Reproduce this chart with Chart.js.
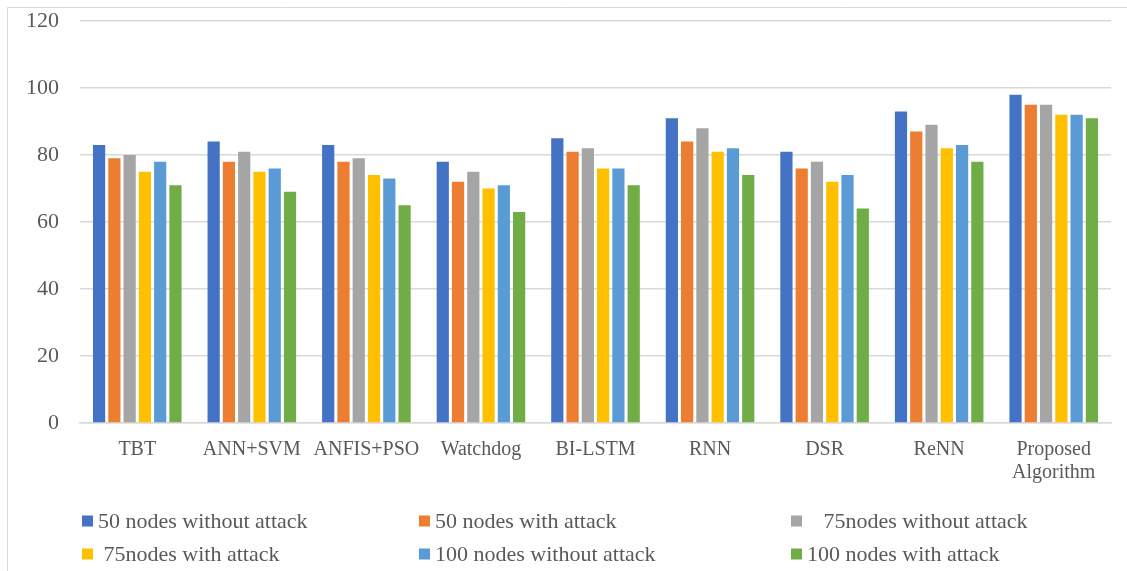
<!DOCTYPE html>
<html>
<head>
<meta charset="utf-8">
<style>
  html, body { margin: 0; padding: 0; background: #ffffff; }
  #wrap { width: 1127px; height: 571px; position: relative; }
</style>
<script src="https://cdn.jsdelivr.net/npm/chart.js@4.4.1/dist/chart.umd.min.js"></script>
</head>
<body>
<div id="wrap"><canvas id="chart" width="1127" height="571"></canvas></div>
<script>
// Methods compared
const categories = [
  'TBT', 'ANN+SVM', 'ANFIS+PSO', 'Watchdog', 'BI-LSTM',
  'RNN', 'DSR', 'ReNN', ['Proposed', 'Algorithm']
];

// Series names (leading spaces kept as written in the legend)
const seriesNames = [
  '50 nodes without attack',
  '50 nodes with attack',
  '   75nodes without attack',
  ' 75nodes with attack',
  '100 nodes without attack',
  '100 nodes with attack'
];

const seriesColors = ['#4472C4', '#ED7D31', '#A5A5A5', '#FFC000', '#5B9BD5', '#70AD47'];

// Values per method for each scenario
const nodes50NoAttack   = [83, 84, 83, 78, 85, 91, 81, 93, 98];
const nodes50Attack     = [79, 78, 78, 72, 81, 84, 76, 87, 95];
const nodes75NoAttack   = [80, 81, 79, 75, 82, 88, 78, 89, 95];
const nodes75Attack     = [75, 75, 74, 70, 76, 81, 72, 82, 92];
const nodes100NoAttack  = [78, 76, 73, 71, 76, 82, 74, 83, 92];
const nodes100Attack    = [71, 69, 65, 63, 71, 74, 64, 78, 91];

const yTicks = [0, 20, 40, 60, 80, 100, 120];

const seriesValues = [nodes50NoAttack, nodes50Attack, nodes75NoAttack,
                      nodes75Attack, nodes100NoAttack, nodes100Attack];

const FONT = "'Liberation Serif', 'Times New Roman', serif";
const TEXT = '#595959';
const GRID = '#d9d9d9';

// Light frame around the chart
const framePlugin = {
  id: 'frame',
  beforeDraw(chart) {
    const ctx = chart.ctx;
    ctx.save();
    ctx.fillStyle = '#ffffff';
    ctx.fillRect(0, 0, chart.width, chart.height);
    ctx.strokeStyle = GRID;
    ctx.lineWidth = 1;
    ctx.beginPath();
    ctx.moveTo(7.5, chart.height + 2);
    ctx.lineTo(7.5, 7.5);
    ctx.lineTo(chart.width + 2, 7.5);
    ctx.stroke();
    ctx.restore();
  }
};

// Two-row legend with three fixed columns
const legendPlugin = {
  id: 'gridLegend',
  afterDraw(chart) {
    const ctx = chart.ctx;
    const cols = [82, 419, 791];
    const rows = [521, 554];
    ctx.save();
    ctx.font = '22px ' + FONT;
    ctx.textBaseline = 'middle';
    ctx.textAlign = 'left';
    chart.data.datasets.forEach((ds, i) => {
      const x = cols[i % 3];
      const y = rows[Math.floor(i / 3)];
      ctx.fillStyle = ds.backgroundColor;
      ctx.fillRect(x, y - 5.5, 11, 11);
      ctx.fillStyle = TEXT;
      ctx.fillText(ds.label, x + 16, y + 1);
    });
    ctx.restore();
  }
};

new Chart(document.getElementById('chart'), {
  type: 'bar',
  data: {
    labels: categories,
    datasets: seriesNames.map((name, i) => ({
      label: name,
      data: seriesValues[i],
      backgroundColor: seriesColors[i],
      borderWidth: 0,
      categoryPercentage: 0.8,
      barPercentage: 0.8
    }))
  },
  options: {
    responsive: false,
    animation: false,
    devicePixelRatio: 1,
    layout: { padding: { top: 21, right: 16, left: 0, bottom: 0 } },
    plugins: {
      legend: { display: false },
      tooltip: { enabled: false }
    },
    scales: {
      y: {
        min: 0,
        max: 120,
        afterBuildTicks(scale) { scale.ticks = yTicks.map(v => ({ value: v })); },
        afterFit(scale) {
          scale.width = 80;
          scale.paddingTop = 0;
          scale.paddingBottom = 0;
        },
        border: { display: false },
        grid: { color: GRID, lineWidth: 1.5, drawTicks: false },
        ticks: {
          padding: 21,
          color: TEXT,
          font: { family: FONT, size: 22 }
        }
      },
      x: {
        afterFit(scale) { scale.height = 148; },
        border: { display: true, color: GRID, width: 1.5 },
        grid: { display: false, drawTicks: false },
        ticks: {
          padding: 15,
          maxRotation: 0,
          autoSkip: false,
          color: TEXT,
          font: { family: FONT, size: 20, lineHeight: 1.15 }
        }
      }
    }
  },
  plugins: [framePlugin, legendPlugin]
});
</script>
</body>
</html>
